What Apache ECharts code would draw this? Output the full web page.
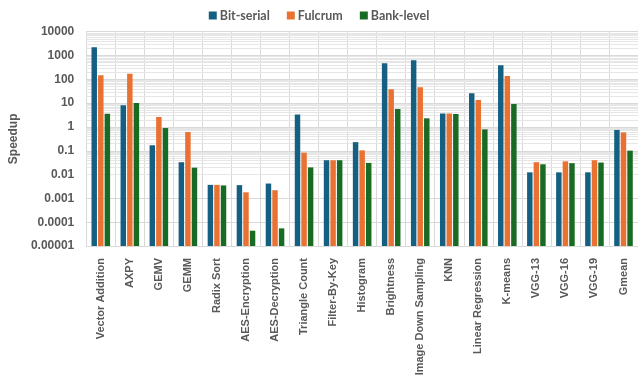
<!DOCTYPE html>
<html>
<head>
<meta charset="utf-8">
<script src="https://cdn.jsdelivr.net/npm/echarts@6/dist/echarts.min.js"></script>
<style>html,body{margin:0;padding:0;background:#fff}#c{width:638px;height:381px}</style>
</head>
<body>
<div id="c"></div>
<script>
const categories = ['Vector Addition','AXPY','GEMV','GEMM','Radix Sort','AES-Encryption','AES-Decryption','Triangle Count','Filter-By-Key','Histogram','Brightness','Image Down Sampling','KNN','Linear Regression','K-means','VGG-13','VGG-16','VGG-19','Gmean'];
const bitSerial = [2200, 8.1, 0.17, 0.033, 0.0037, 0.0036, 0.0042, 3.3, 0.04, 0.23, 470, 630, 3.7, 26, 390, 0.0124, 0.0124, 0.0124, 0.75];
const fulcrum   = [148, 173, 2.6, 0.61, 0.0037, 0.0018, 0.0022, 0.083, 0.04, 0.104, 38, 46, 3.7, 13.5, 138, 0.033, 0.036, 0.04, 0.59];
const bankLevel = [3.6, 10.1, 0.9, 0.0195, 0.0035, 0.000044, 0.000055, 0.020, 0.04, 0.031, 5.7, 2.3, 3.5, 0.79, 9.2, 0.027, 0.03, 0.032, 0.101];
const yTickLabels = ['0.00001','0.0001','0.001','0.01','0.1','1','10','100','1000','10000'];
const seriesNames = ['Bit-serial','Fulcrum','Bank-level'];
const colors = ['#156082','#E97132','#196B24'];

const minorLines = [];
for (let e = -5; e < 4; e++) {
  for (let m = 2; m <= 9; m++) minorLines.push({ yAxis: m * Math.pow(10, e) });
}

const chart = echarts.init(document.getElementById('c'), null, { renderer: 'canvas' });
const labelFont = { fontFamily: 'Liberation Sans, Arial, sans-serif', fontWeight: 'bold', color: '#595959' };
const barSeries = seriesNames.map((n, i) => ({
  name: n, type: 'bar', data: [bitSerial, fulcrum, bankLevel][i],
  itemStyle: { color: colors[i] },
  barGap: '20%', barCategoryGap: '36%', z: 3
}));
chart.setOption({
  animation: false,
  color: colors,
  legend: {
    data: seriesNames,
    top: 4,
    left: 'center',
    itemWidth: 8,
    itemHeight: 8,
    itemGap: 17,
    icon: 'rect',
    textStyle: { fontFamily: 'Lato, sans-serif', fontWeight: 'bold', fontSize: 12.5, color: '#595959', padding: [0, 0, 0, -2] }
  },
  grid: { left: 86, right: -7, top: 31.7, bottom: 135 },
  xAxis: {
    type: 'category',
    data: categories,
    axisTick: { show: false },
    axisLine: { lineStyle: { color: '#D9D9D9' } },
    splitLine: { show: true, lineStyle: { color: '#D9D9D9', width: 1 } },
    axisLabel: Object.assign({ rotate: 90, fontSize: 11, margin: 12, interval: 0 }, labelFont)
  },
  yAxis: {
    type: 'log',
    logBase: 10,
    min: 0.00001,
    max: 10000,
    startValue: 0.00001,
    interval: 1,
    name: 'Speedup',
    nameLocation: 'middle',
    nameGap: 66,
    nameRotate: 90,
    nameTextStyle: Object.assign({ fontSize: 12 }, labelFont),
    axisLine: { show: false },
    axisTick: { show: false },
    splitLine: { lineStyle: { color: '#D9D9D9', width: 1 } },
    axisLabel: Object.assign({ fontSize: 12, margin: 12, formatter: (v, i) => yTickLabels[i] }, labelFont)
  },
  series: barSeries.concat([
    {
      type: 'line', data: [], z: 1, silent: true,
      markLine: {
        z: 1, silent: true, symbol: 'none', label: { show: false }, animation: false,
        lineStyle: { color: '#E6E6E6', type: 'solid', width: 1 },
        data: minorLines
      }
    }
  ])
});
</script>
</body>
</html>
